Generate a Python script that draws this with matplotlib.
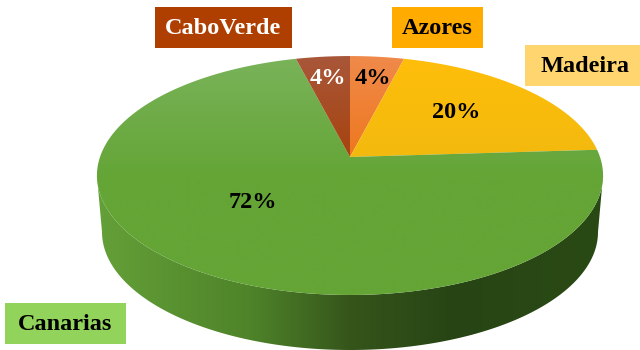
import numpy as np
import matplotlib
matplotlib.use("Agg")
import matplotlib.pyplot as plt
from matplotlib.colors import LinearSegmentedColormap
from matplotlib.patches import PathPatch, Rectangle
from matplotlib.path import Path

plt.rcParams["font.family"] = ["Liberation Serif", "DejaVu Serif"]

# data, clockwise from 12 o'clock
names = ["Azores", "Madeira", "Canarias", "CaboVerde"]
shares = [4, 20, 72, 4]

# ── look of each slice ──────────────────────────────
top_colors = ["#f08a4b", "#ffbe0a", "#7ab35a", "#a9573a"]
low_colors = ["#ee7415", "#f0b90f", "#64a536", "#a63f06"]
box_colors = ["#ffab00", "#ffd56f", "#92d35c", "#ae3f00"]
box_xywh = [(392, 7, 91, 41), (525, 45, 115, 41), (5, 303, 121, 41), (155, 7, 137, 41)]
name_xy = [(437.5, 29), (585, 66), (65.5, 324), (223, 28)]
text_colors = ["black", "black", "black", "white"]
pct_xy = [(373, 78), (456, 112), (253, 202), (328, 78)]
pct_colors = ["black", "black", "black", "white"]

# projective mapping of the disc onto the tilted top face
APEX_X, APEX_Y = 350, 157
A, B, K = 250, 116.6, 0.155


def rim(theta):
    x, y = np.sin(theta), np.cos(theta)
    d = 1 + K * y
    return APEX_X + A * x / d, APEX_Y - B * y / d


def gradient_fill(ax, path, colors, horizontal=False, extent=(0, 640, 350, 0), zorder=2):
    cmap = LinearSegmentedColormap.from_list("g", colors)
    ramp = np.linspace(0, 1, 256)
    ramp = ramp[None, :] if horizontal else ramp[:, None]
    im = ax.imshow(ramp, cmap=cmap, extent=extent, aspect="auto", zorder=zorder, interpolation="bilinear")
    patch = PathPatch(path, transform=ax.transData, fc="none", ec="none")
    ax.add_patch(patch)
    im.set_clip_path(patch)


fig = plt.figure(figsize=(6.4, 3.5), dpi=100)
ax = fig.add_axes([0, 0, 1, 1])

# ── side wall ───────────────────────────────────────
t = np.linspace(np.pi / 2 + np.arcsin(K), 3 * np.pi / 2 - np.arcsin(K), 200)
front_x, front_y = rim(t)
phi = np.linspace(np.pi, 0, 200)
low_x = 350 + 248 * np.cos(phi)
low_y = 232 + 118 * np.sin(phi)
wall = np.vstack([np.column_stack([front_x, front_y]), np.column_stack([low_x, low_y])])
wall_path = Path(np.vstack([wall, wall[0]]), closed=True)
gradient_fill(
    ax, wall_path,
    [(0, "#64a038"), (0.3, "#4f842a"), (0.5, "#35551b"), (0.7, "#274514"), (1, "#2a4a15")],
    horizontal=True, extent=(96, 605, 350, 0),
)

# ── top face slices ─────────────────────────────────
edges = np.cumsum([0] + shares) / sum(shares) * 2 * np.pi
for i in range(len(shares)):
    th = np.linspace(edges[i], edges[i + 1], 200)
    rx, ry = rim(th)
    verts = np.vstack([[APEX_X, APEX_Y], np.column_stack([rx, ry]), [APEX_X, APEX_Y]])
    gradient_fill(ax, Path(verts, closed=True), [top_colors[i], low_colors[i], low_colors[i]],
                  extent=(0, 640, 300, 55), zorder=3)

# ── percent labels and name boxes ───────────────────
for i, name in enumerate(names):
    ax.text(*pct_xy[i], f"{shares[i]}%", color=pct_colors[i], fontsize=17.5, fontweight="bold",
            ha="center", va="center", zorder=5)
    x, y, w, h = box_xywh[i]
    ax.add_patch(Rectangle((x, y), w, h, fc=box_colors[i], ec="none", zorder=4))
    ax.text(*name_xy[i], name, color=text_colors[i],
            fontsize=17.5, fontweight="bold", ha="center", va="center", zorder=5)

ax.set_xlim(0, 640)
ax.set_ylim(350, 0)
ax.axis("off")
fig.savefig("out.png", dpi=100)
